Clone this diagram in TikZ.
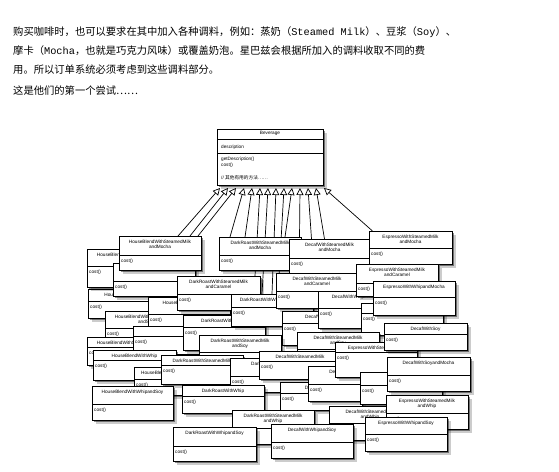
\documentclass[tikz,border=0pt]{standalone}
\usepackage{fontspec}
\setmainfont{Liberation Sans}
\newfontfamily\cjk{Noto Sans CJK SC}
\newfontfamily\lat{Liberation Mono}
\usetikzlibrary{shadows,arrows.meta,backgrounds}

% name, left, top, width, height, title height, title
\newcommand{\classbox}[7]{%
  \node [cls, minimum width=#4pt, minimum height=#5pt] (#1) at (#2+#4/2,#3+#5/2) {};
  \draw [cls line] (#2,#3+#6) -- (#2+#4,#3+#6);
  \node [cls title] at (#2+#4/2,#3+3.5) {#7};
  \node [cls op] at (#2+2,#3+#6+6) {cost()};
}

\begin{document}
\begin{tikzpicture}[
  x=1pt, y=-1pt,
  para/.style={anchor=west, inner sep=0, font=\cjk\fontsize{10.3}{12}\selectfont},
  cls/.style={draw, fill=white, line width=1pt, inner sep=0, outer sep=0,
    drop shadow={shadow xshift=3.6pt, shadow yshift=-3.6pt, opacity=.2, fill=black},
    drop shadow={shadow xshift=2.2pt, shadow yshift=-2.2pt, opacity=.45, fill=black}},
  cls line/.style={line width=1pt},
  cls title/.style={anchor=north, inner sep=0, align=center, font=\fontsize{4.7}{5.8}\selectfont},
  cls op/.style={anchor=west, inner sep=0, font=\fontsize{4.7}{5.8}\selectfont},
  gen/.style={line width=0.7pt, -{Triangle[open, length=7pt, width=7pt]}},
]
\useasboundingbox (0,0) rectangle (559,471);

\node [para] (p1) at (13,32) {购买咖啡时，也可以要求在其中加入各种调料，例如：蒸奶（{\lat Steamed Milk}）、豆浆（{\lat Soy}）、};
\node [para] (p2) at (13,51) {摩卡（{\lat Mocha}，也就是巧克力风味）或覆盖奶泡。星巴兹会根据所加入的调料收取不同的费};
\node [para] (p3) at (13,70) {用。所以订单系统必须考虑到这些调料部分。};
\node [para] (p4) at (13,91) {这是他们的第一个尝试……};

% superclass
\node [cls, minimum width=106pt, minimum height=56pt] (bev) at (270,157) {};
\draw [cls line] (217,139) -- (323,139);
\draw [cls line] (217,153) -- (323,153);
\node [cls title] at (270,131) {Beverage};
\node [cls op] at (221,147) {description};
\node [cls op] at (221,159) {getDescription()};
\node [cls op] at (221,165) {cost()};
\node [cls op] at (221,178) {// {\cjk 其他有用的方法……}};

% subclasses, back to front
\classbox{hbMochaA}{88}{289}{82}{29}{12}{HouseBlendWithMocha}
\classbox{hbMilk}{87}{249}{82}{38}{17}{HouseBlendWithSteamedMilk}
\classbox{hbWhipA}{113}{263}{82}{33}{18}{}
\classbox{hbMilkMocha}{119}{236}{82}{34}{19}{HouseBlendWithSteamedMilk\\andMocha}
\classbox{drMilkMocha}{219}{237}{82}{33}{18}{DarkRoastWithSteamedMilk\\andMocha}
\classbox{dcMilkMocha}{289}{239}{81}{34}{19}{DecafWithSteamedMilk\\andMocha}
\classbox{esMilkMocha}{369}{231}{83}{33}{17}{EspressoWithSteamedMilk\\andMocha}
\classbox{hbMilkSoy}{105}{311}{82}{34}{17}{HouseBlendWithSteamedMilk\\andSoy}
\classbox{hbCaramel}{148}{297}{82}{35}{17}{HouseBlendWithCaramel}
\classbox{drMilkCaramel}{177}{276}{83}{34}{18}{DarkRoastWithSteamedMilk\\andCaramel}
\classbox{hbMilkB}{87}{337}{82}{28}{10}{HouseBlendWithSteamedMilk}
\classbox{hbSoy}{133}{326}{82}{28}{10}{}
\classbox{drMocha}{183}{315}{82}{35}{12}{DarkRoastWithMocha}
\classbox{drWhipMocha}{231}{294}{82}{32}{13}{DarkRoastWithWhipandMocha}
\classbox{dcMocha}{282}{311}{82}{34}{12}{DecafWithMocha}
\classbox{dcMilkCaramel}{276}{273}{82}{35}{18}{DecafWithSteamedMilk\\andCaramel}
\classbox{dcWhipMocha}{318}{291}{82}{37}{17}{DecafWithWhipandMocha}
\classbox{esMilkCaramel}{356}{264}{82}{32}{19}{EspressoWithSteamedMilk\\andCaramel}
\classbox{esWhip}{361}{303}{82}{32}{10}{}
\classbox{esWhipMocha}{373}{281}{82}{34}{16}{EspressoWithWhipandMocha}
\classbox{dcMilkSoy}{297}{332}{82}{34}{17}{DecafWithSteamedMilk\\andSoy}
\classbox{drMilkSoy}{199}{335}{82}{34}{17}{DarkRoastWithSteamedMilk\\andSoy}
\classbox{hbWhip}{93}{350}{83}{30}{10}{HouseBlendWithWhip}
\classbox{hbWhipMocha}{134}{367}{82}{28}{12}{HouseBlendWithWhipandMocha}
\classbox{drMilk}{161}{355}{82}{29}{10}{DarkRoastWithSteamedMilk}
\classbox{drSoy}{230}{358}{82}{34}{18}{DarkRoastWithSoy}
\classbox{dcMilk}{259}{351}{82}{28}{10}{DecafWithSteamedMilk}
\classbox{dcWhip}{280}{382}{82}{28}{11}{DecafWithWhip}
\classbox{dcCaramel}{308}{366}{82}{35}{18}{DecafWithCaramel}
\classbox{esMilk}{335}{342}{82}{35}{10}{EspressoWithSteamedMilk}
\classbox{dcSoy}{384}{323}{83}{27}{11}{DecafWithSoy}
\classbox{esSoy}{360}{372}{82}{32}{13}{}
\classbox{dcSoyMocha}{387}{357}{83}{34}{18}{DecafWithSoyandMocha}
\classbox{hbWhipSoy}{92}{386}{81}{34}{18}{HouseBlendWithWhipandSoy}
\classbox{drWhip}{182}{385}{82}{28}{11}{DarkRoastWithWhip}
\classbox{dcMilkWhip}{329}{406}{82}{34}{17}{DecafWithSteamedMilk\\andWhip}
\classbox{drMilkWhip}{232}{410}{82}{34}{18}{DarkRoastWithSteamedMilk\\andWhip}
\classbox{esMilkWhip}{386}{395}{82}{34}{18}{EspressoWithSteamedMilk\\andWhip}
\classbox{drWhipSoy}{173}{427}{83}{34}{19}{DarkRoastWithWhipandSoy}
\classbox{dcWhipSoy}{271}{424}{82}{34}{18}{DecafWithWhipandSoy}
\classbox{esWhipSoy}{365}{417}{82}{34}{17}{EspressoWithWhipandSoy}

% inheritance arrows
\begin{scope}[on background layer]
\foreach \i in {0,...,13}
  \coordinate (t\i) at ([shift={(3+8*\i,3)}]bev.south west);
\draw [gen] ([xshift=18pt]hbMilkMocha.north) -- (t0);
\draw [gen] ([xshift=30pt]hbMilkMocha.north) -- (t1);
\draw [gen] ([xshift=38pt]hbMilkMocha.north) -- (t2);
\draw [gen] ([xshift=-30pt]drMilkMocha.north) -- (t3);
\draw [gen] ([xshift=-15pt]drMilkMocha.north) -- (t4);
\draw [gen] ([xshift=-5pt]drMilkCaramel.north east) -- (t5);
\draw [gen] ([xshift=-10pt]drWhipMocha.north) -- (t6);
\draw [gen] (drWhipMocha.north) -- (t7);
\draw [gen] ([xshift=6pt]drWhipMocha.north) -- (t8);
\draw [gen] ([xshift=25pt]drMilkMocha.north) -- (t9);
\draw [gen] ([xshift=-30pt]dcMilkMocha.north) -- (t10);
\draw [gen] ([xshift=-18pt]dcMilkMocha.north) -- (t11);
\draw [gen] ([xshift=-5pt]dcMilkMocha.north) -- (t12);
\draw [gen] ([xshift=-38pt]esMilkMocha.north) -- (t13);
\end{scope}

\end{tikzpicture}
\end{document}
